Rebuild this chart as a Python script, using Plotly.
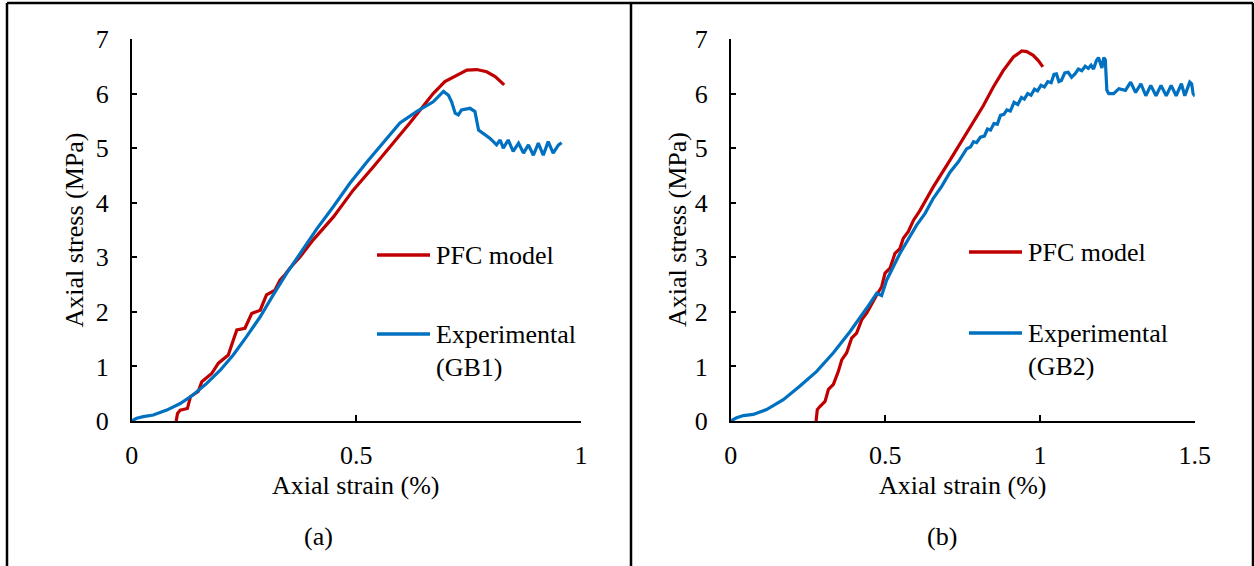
import plotly.graph_objects as go

# ---- Panel (a): GB1 ----
pfc_a_strain = [0.099, 0.102, 0.108, 0.124, 0.131, 0.148, 0.156, 0.178, 0.193, 0.215, 0.226, 0.234,
                0.252, 0.267, 0.286, 0.300, 0.319, 0.330, 0.341, 0.352, 0.375, 0.404, 0.449, 0.493,
                0.538, 0.582, 0.619, 0.642, 0.671, 0.697, 0.723, 0.746, 0.768, 0.790, 0.809, 0.829]
pfc_a_stress = [0.00, 0.14, 0.20, 0.23, 0.45, 0.54, 0.72, 0.87, 1.06, 1.21, 1.48, 1.67,
                1.70, 1.97, 2.03, 2.31, 2.40, 2.58, 2.68, 2.80, 3.01, 3.32, 3.74, 4.23,
                4.66, 5.09, 5.46, 5.70, 6.00, 6.22, 6.34, 6.43, 6.44, 6.40, 6.31, 6.16]

exp_a_strain = [0.000, 0.011, 0.026, 0.048, 0.078, 0.108, 0.137, 0.167, 0.197, 0.226, 0.256, 0.286,
                0.315, 0.345, 0.375, 0.412, 0.449, 0.486, 0.523, 0.561, 0.597, 0.634, 0.671, 0.694,
                0.705, 0.712, 0.720, 0.727, 0.734, 0.753, 0.764, 0.772, 0.783, 0.797, 0.805, 0.812,
                0.820, 0.827, 0.838, 0.849, 0.861, 0.872, 0.883, 0.894, 0.905, 0.916, 0.927, 0.938,
                0.950, 0.957]
exp_a_stress = [0.00, 0.05, 0.08, 0.11, 0.20, 0.32, 0.48, 0.69, 0.93, 1.21, 1.55, 1.91,
                2.31, 2.71, 3.07, 3.52, 3.93, 4.36, 4.74, 5.12, 5.46, 5.67, 5.85, 6.04,
                5.97, 5.85, 5.64, 5.61, 5.70, 5.73, 5.67, 5.33, 5.27, 5.18, 5.12, 5.06,
                5.15, 5.00, 5.15, 4.94, 5.09, 4.91, 5.06, 4.87, 5.09, 4.87, 5.12, 4.91,
                5.06, 5.10]

# ---- Panel (b): GB2 ----
pfc_b_strain = [0.276, 0.280, 0.289, 0.305, 0.316, 0.332, 0.348, 0.359, 0.375, 0.391, 0.407, 0.424,
                0.440, 0.456, 0.472, 0.488, 0.499, 0.515, 0.531, 0.547, 0.558, 0.574, 0.591, 0.612,
                0.655, 0.709, 0.763, 0.817, 0.849, 0.881, 0.914, 0.941, 0.957, 0.978, 0.995, 1.009]
pfc_b_stress = [0.00, 0.21, 0.27, 0.36, 0.58, 0.67, 0.91, 1.12, 1.25, 1.52, 1.61, 1.86,
                1.98, 2.16, 2.31, 2.46, 2.71, 2.80, 3.07, 3.16, 3.35, 3.47, 3.68, 3.86,
                4.29, 4.78, 5.27, 5.78, 6.12, 6.42, 6.67, 6.78, 6.77, 6.70, 6.60, 6.49]

exp_b_strain = [0.000, 0.019, 0.041, 0.073, 0.116, 0.170, 0.224, 0.278, 0.332, 0.386, 0.440, 0.472,
                0.488, 0.504, 0.547, 0.601, 0.628, 0.655, 0.682, 0.709, 0.736, 0.763, 0.775, 0.785,
                0.795, 0.807, 0.820, 0.830, 0.840, 0.851, 0.862, 0.872, 0.883, 0.893, 0.904, 0.916,
                0.928, 0.940, 0.949, 0.960, 0.971, 0.982, 0.992, 1.003, 1.014, 1.025, 1.036, 1.045,
                1.053, 1.061, 1.069, 1.080, 1.091, 1.102, 1.113, 1.124, 1.135, 1.146, 1.156, 1.165,
                1.173, 1.182, 1.189, 1.200, 1.206, 1.211, 1.216, 1.222, 1.238, 1.255, 1.276, 1.293,
                1.309, 1.326, 1.342, 1.358, 1.375, 1.391, 1.408, 1.424, 1.440, 1.457, 1.468, 1.484,
                1.490, 1.495, 1.501]
exp_b_stress = [0.00, 0.06, 0.10, 0.12, 0.21, 0.39, 0.64, 0.91, 1.25, 1.64, 2.07, 2.34,
                2.30, 2.58, 3.07, 3.59, 3.80, 4.08, 4.30, 4.56, 4.75, 4.99, 5.02, 5.12,
                5.10, 5.20, 5.22, 5.35, 5.33, 5.45, 5.44, 5.60, 5.62, 5.70, 5.68, 5.84,
                5.80, 5.93, 5.90, 6.00, 5.97, 6.08, 6.05, 6.15, 6.12, 6.22, 6.20, 6.35,
                6.36, 6.22, 6.24, 6.38, 6.39, 6.30, 6.36, 6.45, 6.42, 6.50, 6.46, 6.52,
                6.45, 6.60, 6.66, 6.47, 6.66, 6.62, 6.06, 6.00, 6.00, 6.09, 6.06, 6.21,
                6.02, 6.18, 5.96, 6.15, 5.96, 6.15, 5.96, 6.15, 5.96, 6.18, 5.96, 6.21,
                6.18, 6.00, 5.95]

x_ticks_a = [0, 0.5, 1]
x_ticks_b = [0, 0.5, 1, 1.5]
y_ticks = [0, 1, 2, 3, 4, 5, 6, 7]

RED = "#C00000"
BLUE = "#0070C0"
FONT = "Times New Roman, Liberation Serif, serif"
FS = 26
W, H = 1254, 566


def px(x):
    return x / W


def py(y):
    return 1 - y / H


fig = go.Figure()
fig.add_trace(go.Scatter(x=pfc_a_strain, y=pfc_a_stress, mode="lines",
                         line=dict(color=RED, width=3.2), xaxis="x", yaxis="y"))
fig.add_trace(go.Scatter(x=exp_a_strain, y=exp_a_stress, mode="lines",
                         line=dict(color=BLUE, width=3.2), xaxis="x", yaxis="y"))
fig.add_trace(go.Scatter(x=pfc_b_strain, y=pfc_b_stress, mode="lines",
                         line=dict(color=RED, width=3.2), xaxis="x2", yaxis="y2"))
fig.add_trace(go.Scatter(x=exp_b_strain, y=exp_b_stress, mode="lines",
                         line=dict(color=BLUE, width=3.2), xaxis="x2", yaxis="y2"))

ax_common = dict(showline=True, linecolor="black", linewidth=1.5, showgrid=False, zeroline=False,
                 ticks="inside", ticklen=6, tickwidth=1.5, tickcolor="black", automargin=False,
                 tickfont=dict(family=FONT, size=FS, color="black"), fixedrange=True)

ydom = [py(421), py(39)]
fig.update_layout(
    template="none",
    width=W, height=H,
    margin=dict(l=0, r=0, t=0, b=0, pad=0, autoexpand=False),
    paper_bgcolor="white", plot_bgcolor="white",
    showlegend=False,
    xaxis=dict(domain=[px(131.7), px(581)], range=[0, 1], tickvals=x_ticks_a,
               anchor="y", ticklabelstandoff=10, **ax_common),
    yaxis=dict(domain=ydom, range=[0, 7], tickvals=y_ticks, anchor="x",
               ticklabelstandoff=16, **ax_common),
    xaxis2=dict(domain=[px(730.7), px(1194.7)], range=[0, 1.5], tickvals=x_ticks_b,
                anchor="y2", ticklabelstandoff=10, **ax_common),
    yaxis2=dict(domain=ydom, range=[0, 7], tickvals=y_ticks, anchor="x2",
                ticklabelstandoff=16, **ax_common),
)

txt = dict(family=FONT, size=FS, color="black")
annos = []
# axis titles and panel labels
for cx, lx, lab in [(356, 318, "(a)"), (962.7, 942, "(b)")]:
    annos.append(dict(x=px(cx), y=py(485), xref="paper", yref="paper", text="Axial strain (%)",
                      showarrow=False, font=txt, xanchor="center", yanchor="middle"))
    annos.append(dict(x=px(lx), y=py(536), xref="paper", yref="paper",
                      text=lab, showarrow=False, font=txt, xanchor="center", yanchor="middle"))
for cx in [73.5, 677]:
    annos.append(dict(x=px(cx), y=py(230), xref="paper", yref="paper", text="Axial stress (MPa)",
                      textangle=-90, showarrow=False, font=txt, xanchor="center", yanchor="middle"))

# legend entries
shapes = []
legends = [
    (377, 430, 255, RED, ["PFC model"]),
    (377, 430, 334, BLUE, ["Experimental", "(GB1)"]),
    (969, 1022, 252, RED, ["PFC model"]),
    (969, 1022, 333, BLUE, ["Experimental", "(GB2)"]),
]
for x0, x1, yy, col, lines in legends:
    shapes.append(dict(type="line", xref="paper", yref="paper", x0=px(x0), x1=px(x1),
                       y0=py(yy), y1=py(yy), line=dict(color=col, width=3.5)))
    for i, t in enumerate(lines):
        annos.append(dict(x=px(x1 + 4), y=py(yy + i * 33), xref="paper", yref="paper", text=t,
                          showarrow=False, font=txt, xanchor="left", yanchor="middle"))

# panel frames
frame = dict(color="black", width=2.5)
for x0, y0, x1, y1 in [(7, 3, 1253, 3), (7, 3, 7, 566), (631, 3, 631, 566), (1253, 3, 1253, 566)]:
    shapes.append(dict(type="line", xref="paper", yref="paper", x0=px(x0), x1=px(x1),
                       y0=py(y0), y1=py(y1), line=frame))

fig.update_layout(annotations=annos, shapes=shapes)
fig.write_html("out.html")
